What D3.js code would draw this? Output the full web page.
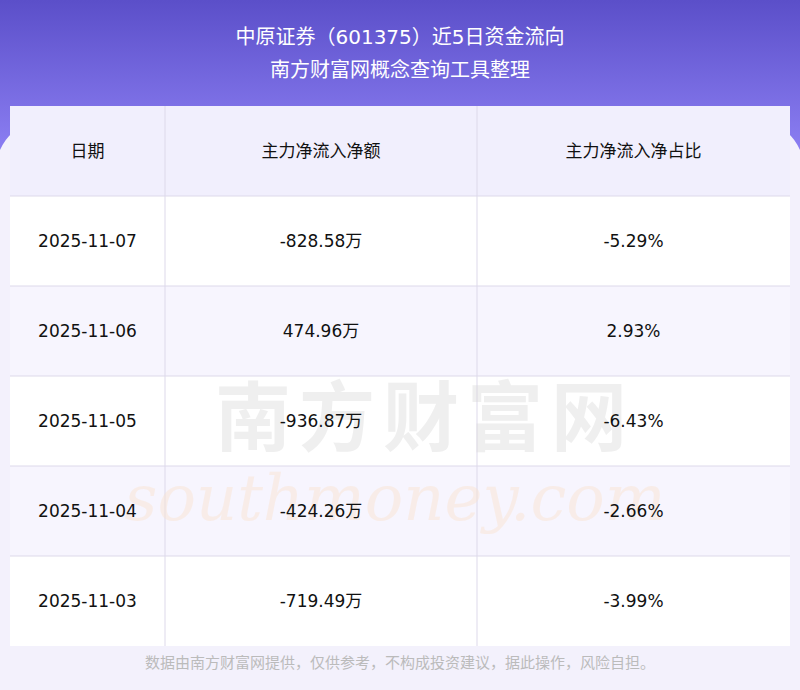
<!DOCTYPE html>
<html><head><meta charset="utf-8">
<script src="https://cdn.jsdelivr.net/npm/d3@7"></script>
<style>body{margin:0;background:#f3f1fc}svg{display:block}</style>
</head><body>
<svg width="800" height="690"></svg>
<script>
const titleLines = ['中原证券（601375）近5日资金流向', '南方财富网概念查询工具整理']
const headers = ['日期', '主力净流入净额', '主力净流入净占比']
const dates = ['2025-11-07', '2025-11-06', '2025-11-05', '2025-11-04', '2025-11-03']
const netFlow = ['-828.58万', '474.96万', '-936.87万', '-424.26万', '-719.49万']
const netRatio = ['-5.29%', '2.93%', '-6.43%', '-2.66%', '-3.99%']
const footer = '数据由南方财富网提供，仅供参考，不构成投资建议，据此操作，风险自担。'

const svg = d3.select('svg')
const width = +svg.attr('width')
const font = '"DejaVu Sans", "Noto Sans CJK SC", sans-serif'

const defs = svg.append('defs')
const grad = defs.append('linearGradient').attr('id', 'topGrad').attr('x1', 0).attr('y1', 0).attr('x2', 0).attr('y2', 1)
grad.append('stop').attr('offset', 0).attr('stop-color', '#5b4fc9')
grad.append('stop').attr('offset', 1).attr('stop-color', '#8b7ef2')

svg.append('rect').attr('width', width).attr('height', 690).attr('fill', '#f3f1fc')
svg.append('path')
  .attr('d', 'M0,0H800V150Q790,128 770,125H30Q10,128 0,150Z')
  .attr('fill', 'url(#topGrad)')

svg.append('g').selectAll('text').data(titleLines).join('text')
  .attr('x', width / 2).attr('y', (d, i) => 44 + i * 33)
  .attr('text-anchor', 'middle').attr('fill', '#fff')
  .attr('font-family', font).attr('font-size', 20)
  .text(d => d)

const colEdges = [10, 165, 477, 790]
const tableTop = 106
const rowH = 90
const y = d3.scaleBand().domain(d3.range(dates.length + 1)).range([tableTop, tableTop + rowH * 6])

const table = svg.append('g')
table.append('rect').attr('x', 10).attr('y', tableTop).attr('width', 780).attr('height', rowH * 6)
  .attr('rx', 6).attr('fill', '#fff')

table.selectAll('rect.row').data(d3.range(6)).join('rect')
  .attr('class', 'row')
  .attr('x', 10).attr('width', 780)
  .attr('y', d => y(d)).attr('height', y.bandwidth())
  .attr('fill', d => d === 0 ? '#f1effd' : (d % 2 === 0 ? '#f7f5fe' : '#fff'))

// watermark
svg.append('text').attr('x', 425).attr('y', 445).attr('text-anchor', 'middle')
  .attr('font-family', '"Noto Sans CJK SC", sans-serif').attr('font-size', 76).attr('font-weight', 'bold')
  .attr('fill', '#d8d8d8').attr('opacity', 0.4).attr('letter-spacing', 8).text('南方财富网')
svg.append('text').attr('x', 395).attr('y', 520).attr('text-anchor', 'middle')
  .attr('font-family', 'DejaVu Serif, serif').attr('font-style', 'italic').attr('font-size', 64)
  .attr('fill', '#fbe3cf').attr('opacity', 0.45).text('southmoney.com')

// grid lines
table.selectAll('line.h').data(d3.range(1, 6)).join('line')
  .attr('x1', 10).attr('x2', 790).attr('y1', d => y(d)).attr('y2', d => y(d))
  .attr('stroke', '#ddd9ea')
table.selectAll('line.v').data(colEdges.slice(1, 3)).join('line')
  .attr('x1', d => d).attr('x2', d => d).attr('y1', tableTop).attr('y2', tableTop + rowH * 6)
  .attr('stroke', '#ddd9ea')

const cx = i => (colEdges[i] + colEdges[i + 1]) / 2
const rows = [headers].concat(dates.map((d, i) => [d, netFlow[i], netRatio[i]]))
rows.forEach((r, ri) => {
  svg.append('g').selectAll('text').data(r).join('text')
    .attr('x', (d, i) => cx(i)).attr('y', y(ri) + rowH / 2 + 6)
    .attr('text-anchor', 'middle').attr('fill', '#111')
    .attr('font-family', font).attr('font-size', 17)
    .text(d => d)
})

svg.append('text').attr('x', width / 2).attr('y', 668).attr('text-anchor', 'middle')
  .attr('font-family', font).attr('font-size', 15).attr('fill', '#bbb').text(footer)
</script>
</body></html>
